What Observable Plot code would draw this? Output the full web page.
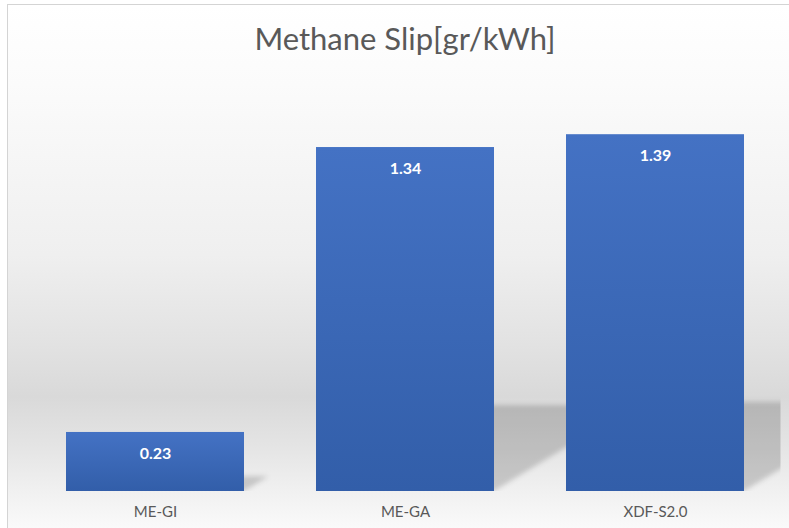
<!DOCTYPE html>
<html>
<head>
<meta charset="utf-8">
<script src="https://cdn.jsdelivr.net/npm/d3@7"></script>
<script src="https://cdn.jsdelivr.net/npm/@observablehq/plot@0.6"></script>
<style>
  html, body { margin: 0; padding: 0; background: #fff; overflow: hidden; }
  #wrap { position: relative; width: 789px; height: 528px; overflow: hidden; background: #fff; }
  #panel {
    position: absolute; left: 7px; top: 4px; width: 800px; height: 540px;
    border-left: 1.5px solid #d4d4d4; border-top: 1.5px solid #d4d4d4;
    background: linear-gradient(to bottom,
      #ffffff 0px, #fbfbfb 80px, #efefef 250px, #e2e2e2 340px, #d9d9d9 392px,
      #e4e4e4 440px, #f1f1f1 488px, #fafafa 524px);
  }
  #chart { position: absolute; left: 0; top: 0; }
</style>
</head>
<body>
<div id="wrap"><div id="panel"></div><div id="chart"></div></div>
<script>
// Methane slip per engine type, gr/kWh
const engines = ["ME-GI", "ME-GA", "XDF-S2.0"];
const slip = [0.23, 1.34, 1.39];
const title = "Methane Slip[gr/kWh]";

const data = engines.map((engine, i) => ({engine, slip: slip[i]}));

const W = 789, H = 528;
const font = "Lato, 'Open Sans', sans-serif";

const chart = Plot.plot({
  width: W,
  height: H,
  marginLeft: 28.5,
  marginRight: 8.5,
  marginTop: 80.3,
  marginBottom: 37,
  style: {background: "transparent", fontFamily: font, overflow: "visible"},
  x: {domain: engines, paddingInner: 0.29, paddingOuter: 0.145, label: null},
  y: {domain: [0, 1.6], axis: null},
  marks: [
    Plot.barY(data, {x: "engine", y: "slip", fill: "url(#barFill)"}),
    Plot.text(data, {
      x: "engine", y: "slip", text: d => d.slip.toFixed(2),
      dy: 21, fill: "#ffffff", fontWeight: "bold", fontSize: 16, lineAnchor: "middle"
    }),
    Plot.axisX({tickSize: 0, tickPadding: 15, fontSize: 15, color: "#595959", label: null}),
    Plot.text([title], {
      frameAnchor: "top", dy: -41, fontSize: 31, fill: "#595959", lineAnchor: "middle"
    })
  ]
});

// gradient fill for bars, blur for the perspective shadows
const svg = d3.select(chart);
const defs = svg.insert("defs", ":first-child");
const grad = defs.append("linearGradient")
  .attr("id", "barFill").attr("x1", 0).attr("y1", 0).attr("x2", 0).attr("y2", 1);
grad.append("stop").attr("offset", "0%").attr("stop-color", "#4472c4");
grad.append("stop").attr("offset", "100%").attr("stop-color", "#325ea9");
defs.append("filter").attr("id", "shadowBlur")
  .attr("x", "-20%").attr("y", "-40%").attr("width", "140%").attr("height", "180%")
  .append("feGaussianBlur").attr("stdDeviation", 2.6);

const xs = chart.scale("x"), ys = chart.scale("y");
const base = ys.apply(0);
const left = 28.5, right = W - 8.5;
defs.append("clipPath").attr("id", "plotClip")
  .append("rect").attr("x", left).attr("y", 0).attr("width", right - left).attr("height", base);

// skewed shadow behind each bar, a quarter of its height, leaning to the right
const shadows = svg.insert("g", "g[aria-label='bar']")
  .attr("clip-path", "url(#plotClip)");
shadows.selectAll("polygon")
  .data(data)
  .join("polygon")
  .attr("points", d => {
    const x0 = xs.apply(d.engine), x1 = x0 + xs.bandwidth;
    const h = 0.25 * (base - ys.apply(d.slip));
    const dx = h * 1.65;
    return [[x0, base], [x1, base], [x1 + dx, base - h], [x0 + dx, base - h]].join(" ");
  })
  .attr("fill", "#000")
  .attr("fill-opacity", 0.17)
  .attr("filter", "url(#shadowBlur)");

document.getElementById("chart").appendChild(chart);
</script>
</body>
</html>
